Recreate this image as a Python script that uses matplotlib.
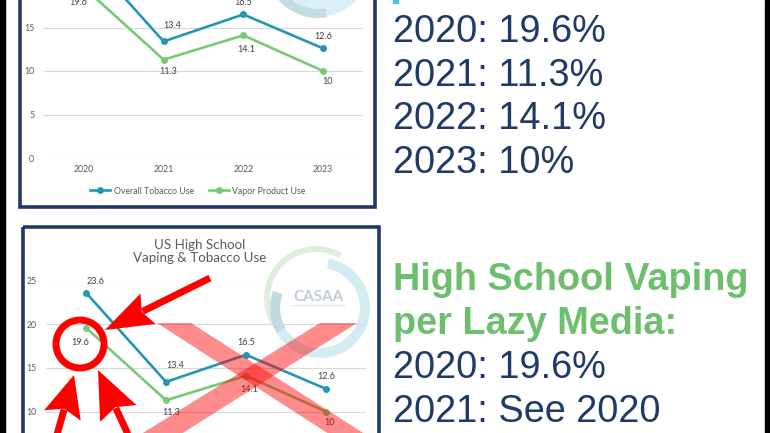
import matplotlib
matplotlib.use('Agg')
import matplotlib.pyplot as plt
from matplotlib.patches import Rectangle, Polygon, Circle, Wedge
import numpy as np

# ---------------- data ----------------
years = ['2020', '2021', '2022', '2023']
overall_tobacco = [23.6, 13.4, 16.5, 12.6]
vapor_product = [19.6, 11.3, 14.1, 10.0]
series_names = ['Overall Tobacco Use', 'Vapor Product Use']
y_ticks = [0, 5, 10, 15, 20, 25]
chart_title = 'US High School\nVaping & Tobacco Use'
cdc_lines = ['2020: 19.6%', '2021: 11.3%', '2022: 14.1%', '2023: 10%']
media_heading = ['High School Vaping', 'per Lazy Media:']
media_lines = ['2020: 19.6%', '2021: See 2020']

# ---------------- style ----------------
TEAL = '#2596b0'
GREEN = '#78c878'
NAVY = '#1f3a68'
HEAD_GREEN = '#6dbf6d'
GRAY_TXT = '#595959'
LABEL_TXT = '#404040'
CHART_FONT = 'Lato'
SMALL = 6.3

W, H = 770, 433
fig = plt.figure(figsize=(7.7, 4.33), dpi=100, facecolor='white')


def px_axes(l, t, r, b, **kw):
    return fig.add_axes([l / W, 1 - b / H, (r - l) / W, (b - t) / H], **kw)


# background layer (pixel coordinates)
bg = px_axes(0, 0, W, H, zorder=0)
bg.set_xlim(0, W)
bg.set_ylim(H, 0)
bg.axis('off')
bg.add_patch(Rectangle((0, 0), 5, H, color='black'))
bg.add_patch(Rectangle((765, 0), 5, H, color='black'))
bg.add_patch(Rectangle((19.5, -20), 355.5, 226.5, fill=False, ec=NAVY, lw=2.6))
bg.add_patch(Rectangle((22.5, 226.5), 356, 240, fill=False, ec=NAVY, lw=2.6))

# watermark logo, top panel (only the bottom part is visible)
bg.add_patch(Circle((322, -28), 44, color='#d9f1f6', lw=0))
bg.add_patch(Wedge((318, -34), 52, 80, 170, width=9, color='#c3dce3', lw=0))
# watermark logo, bottom panel
bg.add_patch(Wedge((316, 298), 52, 130, 300, width=6, color='#dcefdc', lw=0))
bg.add_patch(Wedge((320, 308), 50, -80, 200, width=10, color='#d3ecf2', lw=0))
bg.add_patch(Wedge((320, 308), 50, 150, 200, width=10, color='#c2dae1', lw=0))
bg.text(318, 297, 'CASAA', ha='center', va='center', fontsize=11,
        fontweight='bold', color='#c3cbdb', family=CHART_FONT)
bg.plot([292, 344], [305, 305], color='#e2e6ee', lw=1)

# label offsets in screen pixels (dx right, dy down) and leader flags
off_overall = [(10, -11), (9, -16), (0, -12), (0, -12)]
off_vapor = [(-6, 15), (5, 12), (3, 14), (4, 11)]
lead_overall = [False, True, False, False]
lead_vapor = [True, False, True, False]


def draw_chart(l, r, y0, ppu, legend=False):
    t = y0 - 25 * ppu
    ax = px_axes(l, t, r, y0, zorder=2)
    ax.set_facecolor('none')
    x = np.arange(len(years))
    ax.set_xlim(-0.5, len(years) - 0.5)
    ax.set_ylim(0, 25)
    ax.set_yticks(y_ticks)
    ax.set_xticks(x)
    ax.set_xticklabels(years)
    ax.grid(axis='y', color='#d9d9d9', lw=0.8)
    ax.set_axisbelow(True)
    for s in ax.spines.values():
        s.set_visible(False)
    ax.tick_params(length=0, labelsize=SMALL, colors=GRAY_TXT)
    ax.tick_params(axis='y', pad=7)
    ax.tick_params(axis='x', pad=5)
    for lab in ax.get_xticklabels() + ax.get_yticklabels():
        lab.set_family(CHART_FONT)
    l1, = ax.plot(x, overall_tobacco, color=TEAL, lw=1.9, marker='o', ms=4,
                  label=series_names[0])
    l2, = ax.plot(x, vapor_product, color=GREEN, lw=1.9, marker='o', ms=4,
                  label=series_names[1])
    for vals, offs, leads in ((overall_tobacco, off_overall, lead_overall),
                              (vapor_product, off_vapor, lead_vapor)):
        for i, v in enumerate(vals):
            dx, dy = offs[i]
            kw = {}
            if leads[i]:
                kw['arrowprops'] = dict(arrowstyle='-', color='#a6a6a6',
                                        lw=0.6, shrinkA=4, shrinkB=2)
            ax.annotate(f'{v:g}', (i, v), xytext=(dx, -dy),
                        textcoords='offset pixels', ha='center', va='center',
                        fontsize=SMALL + 0.2, color=LABEL_TXT,
                        family=CHART_FONT, **kw)
    if legend:
        ax.legend(handles=[l1, l2], ncol=2, loc='center',
                  bbox_to_anchor=(198 / W, 1 - 191 / H),
                  bbox_transform=fig.transFigure, frameon=False,
                  prop={'family': CHART_FONT, 'size': SMALL},
                  labelcolor=GRAY_TXT,
                  handlelength=2.3, columnspacing=1.7, handletextpad=0.4)
    return ax


draw_chart(44, 363, 158, 8.7, legend=True)
draw_chart(46, 366, 499, 8.74)
bg.text(200, 251.5, chart_title, ha='center', va='center', fontsize=9.6,
        color=GRAY_TXT, family=CHART_FONT, linespacing=1.15)

# ---------------- overlay layer ----------------
ov = px_axes(0, 0, W, H, zorder=5)
ov.set_facecolor('none')
ov.set_xlim(0, W)
ov.set_ylim(H, 0)
ov.axis('off')

xred = (1, 0, 0, 0.45)
ov.add_patch(Polygon([(157, 323), (191, 323), (368, 436), (332, 436)],
                     closed=True, fc=xred, lw=0))
ov.add_patch(Polygon([(320, 323), (357, 323), (178, 436), (138, 436)],
                     closed=True, fc=xred, lw=0))

ov.add_patch(Circle((80, 344), 24, fill=False, ec='red', lw=5))


def red_arrow(tail, tip, hl=46, hw=18):
    tail = np.array(tail, float)
    tip = np.array(tip, float)
    u = (tip - tail) / np.linalg.norm(tip - tail)
    n = np.array([-u[1], u[0]])
    base = tip - u * hl
    ov.plot([tail[0], base[0] + u[0] * 6], [tail[1], base[1] + u[1] * 6],
            color='red', lw=5, solid_capstyle='butt')
    ov.add_patch(Polygon([tip, base + n * hw, base + u * 7, base - n * hw],
                         closed=True, fc='red', lw=0))


red_arrow((210, 278), (105, 330), hl=48, hw=17)
red_arrow((54, 445), (74, 375), hl=42, hw=19)
red_arrow((133, 445), (98, 370), hl=48, hw=20)

# ---------------- right column text ----------------
TXT = 'Liberation Sans'
ov.add_patch(Rectangle((393, 0), 6, 4, color='#3ec6dc', lw=0))
for k, s in enumerate(cdc_lines):
    ov.text(393, 42 + k * 43.7, s, fontsize=27.3, color=NAVY, family=TXT,
            va='baseline', ha='left')
for k, s in enumerate(media_heading):
    ov.text(393, 290 + k * 43.5, s, fontsize=27.3, color=HEAD_GREEN,
            family=TXT, fontweight='bold', va='baseline', ha='left')
for k, s in enumerate(media_lines):
    ov.text(393, 378 + k * 44, s, fontsize=27.3, color=NAVY, family=TXT,
            va='baseline', ha='left')

fig.savefig('out.png', dpi=100, facecolor='white')
